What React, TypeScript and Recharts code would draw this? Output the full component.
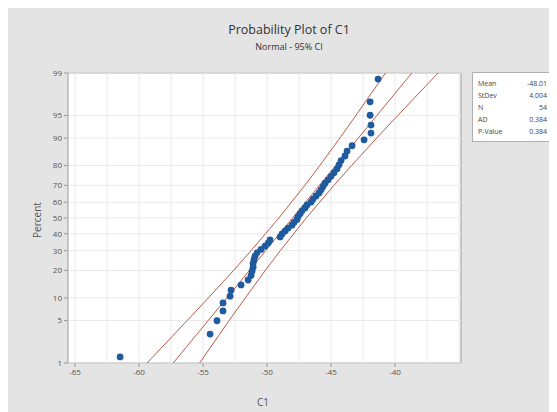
import React from 'react';
import { ScatterChart, Scatter, XAxis, YAxis, ReferenceArea, ReferenceLine } from 'recharts';

// ---- data ----
const c1Values = [
  -61.48, -54.45, -53.91, -53.44, -53.44, -52.89, -52.81, -52.03, -51.48, -51.25,
  -51.17, -51.09, -51.09, -51.02, -50.94, -50.78, -50.47, -50.16, -49.92, -49.77,
  -48.98, -48.83, -48.59, -48.36, -48.05, -47.89, -47.66, -47.58, -47.42, -47.27,
  -47.03, -46.88, -46.56, -46.41, -46.17, -45.94, -45.78, -45.63, -45.47, -45.23,
  -45.0, -44.77, -44.53, -44.38, -44.22, -43.91, -43.75, -43.36, -42.42, -41.88,
  -41.88, -41.95, -41.95, -41.33,
];
const c1Percents = [
  1.29, 3.13, 4.96, 6.8, 8.64, 10.48, 12.32, 14.15, 15.99, 17.83,
  19.67, 21.51, 23.35, 25.18, 27.02, 28.86, 30.7, 32.54, 34.38, 36.21,
  38.05, 39.89, 41.73, 43.57, 45.4, 47.24, 49.08, 50.92, 52.76, 54.6,
  56.43, 58.27, 60.11, 61.95, 63.79, 65.63, 67.46, 69.3, 71.14, 72.98,
  74.82, 76.65, 78.49, 80.33, 82.17, 84.01, 85.85, 87.68, 89.52, 91.36,
  93.2, 95.04, 96.88, 98.71,
];
const linePercents = [1, 5, 10, 20, 30, 50, 70, 80, 90, 95, 99];
const fitLine = [-57.33, -54.6, -53.14, -51.38, -50.11, -48.01, -45.91, -44.64, -42.88, -41.42, -38.69];
const lowerCI = [-59.38, -56.24, -54.58, -52.62, -51.25, -49.08, -47.05, -45.88, -44.32, -43.06, -40.75];
const upperCI = [-55.27, -52.96, -51.7, -50.14, -48.97, -46.94, -44.77, -43.4, -41.44, -39.79, -36.64];

const yTickPercents = [1, 5, 10, 20, 30, 40, 50, 60, 70, 80, 90, 95, 99];
const xTicks = [-65, -60, -55, -50, -45, -40];
const xGridValues = [-65, -62.5, -60, -57.5, -55, -52.5, -50, -47.5, -45, -42.5, -40, -37.5, -35];

const statLabels = ['Mean', 'StDev', 'N', 'AD', 'P-Value'];
const statValues = ['-48.01', '4.004', '54', '0.384', '0.384'];

// ---- normal probability scale transform (percent -> z) ----
function probit(pct: number): number {
  const p = pct / 100;
  const a = [-3.969683028665376e1, 2.209460984245205e2, -2.759285104469687e2, 1.38357751867269e2, -3.066479806614716e1, 2.506628277459239];
  const b = [-5.447609879822406e1, 1.615858368580409e2, -1.556989798598866e2, 6.680131188771972e1, -1.328068155288572e1];
  const c = [-7.784894002430293e-3, -3.223964580411365e-1, -2.400758277161838, -2.54967134885091, 4.374664141464968, 2.938163982698783];
  const d = [7.784695709041462e-3, 3.224671290700398e-1, 2.445134137142996, 3.754408661907416];
  const plow = 0.02425;
  if (p < plow) {
    const q = Math.sqrt(-2 * Math.log(p));
    return (((((c[0] * q + c[1]) * q + c[2]) * q + c[3]) * q + c[4]) * q + c[5]) / ((((d[0] * q + d[1]) * q + d[2]) * q + d[3]) * q + 1);
  }
  if (p <= 1 - plow) {
    const q = p - 0.5;
    const r = q * q;
    return ((((((a[0] * r + a[1]) * r + a[2]) * r + a[3]) * r + a[4]) * r + a[5]) * q) / (((((b[0] * r + b[1]) * r + b[2]) * r + b[3]) * r + b[4]) * r + 1);
  }
  const q = Math.sqrt(-2 * Math.log(1 - p));
  return -(((((c[0] * q + c[1]) * q + c[2]) * q + c[3]) * q + c[4]) * q + c[5]) / ((((d[0] * q + d[1]) * q + d[2]) * q + d[3]) * q + 1);
}

const points = c1Values.map((x, i) => ({ x, y: probit(c1Percents[i]) }));
const mkLine = (xs: number[]) => xs.map((x, i) => ({ x, y: probit(linePercents[i]) }));
const fitData = mkLine(fitLine);
const lowerData = mkLine(lowerCI);
const upperData = mkLine(upperCI);
const yTicks = yTickPercents.map(probit);

const X_MIN = -65.55;
const X_MAX = -34.85;
const Y_MIN = probit(1);
const Y_MAX = probit(99);

const FONT = '"Open Sans", "Noto Sans", sans-serif';
const LINE_COLOR = '#bf5a48';
const DOT_COLOR = '#1f5a9e';
const GRID_COLOR = '#e9e9e9';

const Dot = (props: any) => <circle cx={props.cx} cy={props.cy} r={3.4} fill={DOT_COLOR} />;
const NoShape = () => <g />;

export default function App() {
  return (
    <div style={{ position: 'relative', width: 549, height: 404, background: '#e4e4e4', fontFamily: FONT, overflow: 'hidden' }}>
      <div style={{ position: 'absolute', left: 0, width: 562, top: 13, textAlign: 'center', fontSize: 12.5, color: '#333' }}>
        Probability Plot of C1
      </div>
      <div style={{ position: 'absolute', left: 0, width: 562, top: 32, textAlign: 'center', fontSize: 9, color: '#333' }}>
        Normal - 95% CI
      </div>
      <ScatterChart width={549} height={404} margin={{ top: 65, right: 96, bottom: 19, left: 20 }}>
        <XAxis
          type="number"
          dataKey="x"
          domain={[X_MIN, X_MAX]}
          ticks={xTicks}
          allowDataOverflow
          interval={0}
          axisLine={false}
          tickLine={{ stroke: '#999' }}
          tickSize={4}
          tick={{ fontSize: 8, fill: '#555', fontFamily: FONT }}
          height={30}
        />
        <YAxis
          type="number"
          dataKey="y"
          domain={[Y_MIN, Y_MAX]}
          ticks={yTicks}
          allowDataOverflow
          interval={0}
          axisLine={false}
          tickLine={{ stroke: '#999' }}
          tickSize={4}
          tickFormatter={(v: number, i: number) => String(yTickPercents[i])}
          tick={{ fontSize: 8, fill: '#555', fontFamily: FONT }}
          width={40}
        />
        <ReferenceArea x1={X_MIN} x2={X_MAX} y1={Y_MIN} y2={Y_MAX} fill="#ffffff" fillOpacity={1} stroke="none" />
        {xGridValues.map((g) => (
          <ReferenceLine key={'vx' + g} x={g} stroke={GRID_COLOR} strokeWidth={1} />
        ))}
        {yTicks.map((g, i) => (
          <ReferenceLine key={'hy' + i} y={g} stroke={GRID_COLOR} strokeWidth={1} />
        ))}
        <ReferenceArea x1={X_MIN} x2={X_MAX} y1={Y_MIN} y2={Y_MAX} fill="none" stroke="#9a9a9a" strokeWidth={1} />
        <Scatter data={lowerData} line={{ stroke: LINE_COLOR, strokeWidth: 1 }} shape={NoShape} isAnimationActive={false} />
        <Scatter data={upperData} line={{ stroke: LINE_COLOR, strokeWidth: 1 }} shape={NoShape} isAnimationActive={false} />
        <Scatter data={fitData} line={{ stroke: LINE_COLOR, strokeWidth: 1 }} shape={NoShape} isAnimationActive={false} />
        <Scatter data={points} shape={Dot} isAnimationActive={false} />
      </ScatterChart>
      <div
        style={{
          position: 'absolute', left: 29, top: 212, transform: 'translate(-50%, -50%) rotate(-90deg)',
          fontSize: 10, color: '#555', whiteSpace: 'nowrap',
        }}
      >
        Percent
      </div>
      <div style={{ position: 'absolute', left: 255, top: 394, transform: 'translate(-50%, -50%)', fontSize: 10, color: '#555' }}>
        C1
      </div>
      <div
        style={{
          position: 'absolute', left: 464, top: 64, width: 80, height: 70, background: '#fff',
          border: '1px solid #b0b0b0', boxSizing: 'border-box', padding: '5px 4px 0 5px', fontSize: 7, color: '#444',
        }}
      >
        {statLabels.map((l, i) => (
          <div key={l} style={{ display: 'flex', justifyContent: 'space-between', height: 12, lineHeight: '12px' }}>
            <span>{l}</span>
            <span>{statValues[i]}</span>
          </div>
        ))}
      </div>
    </div>
  );
}
